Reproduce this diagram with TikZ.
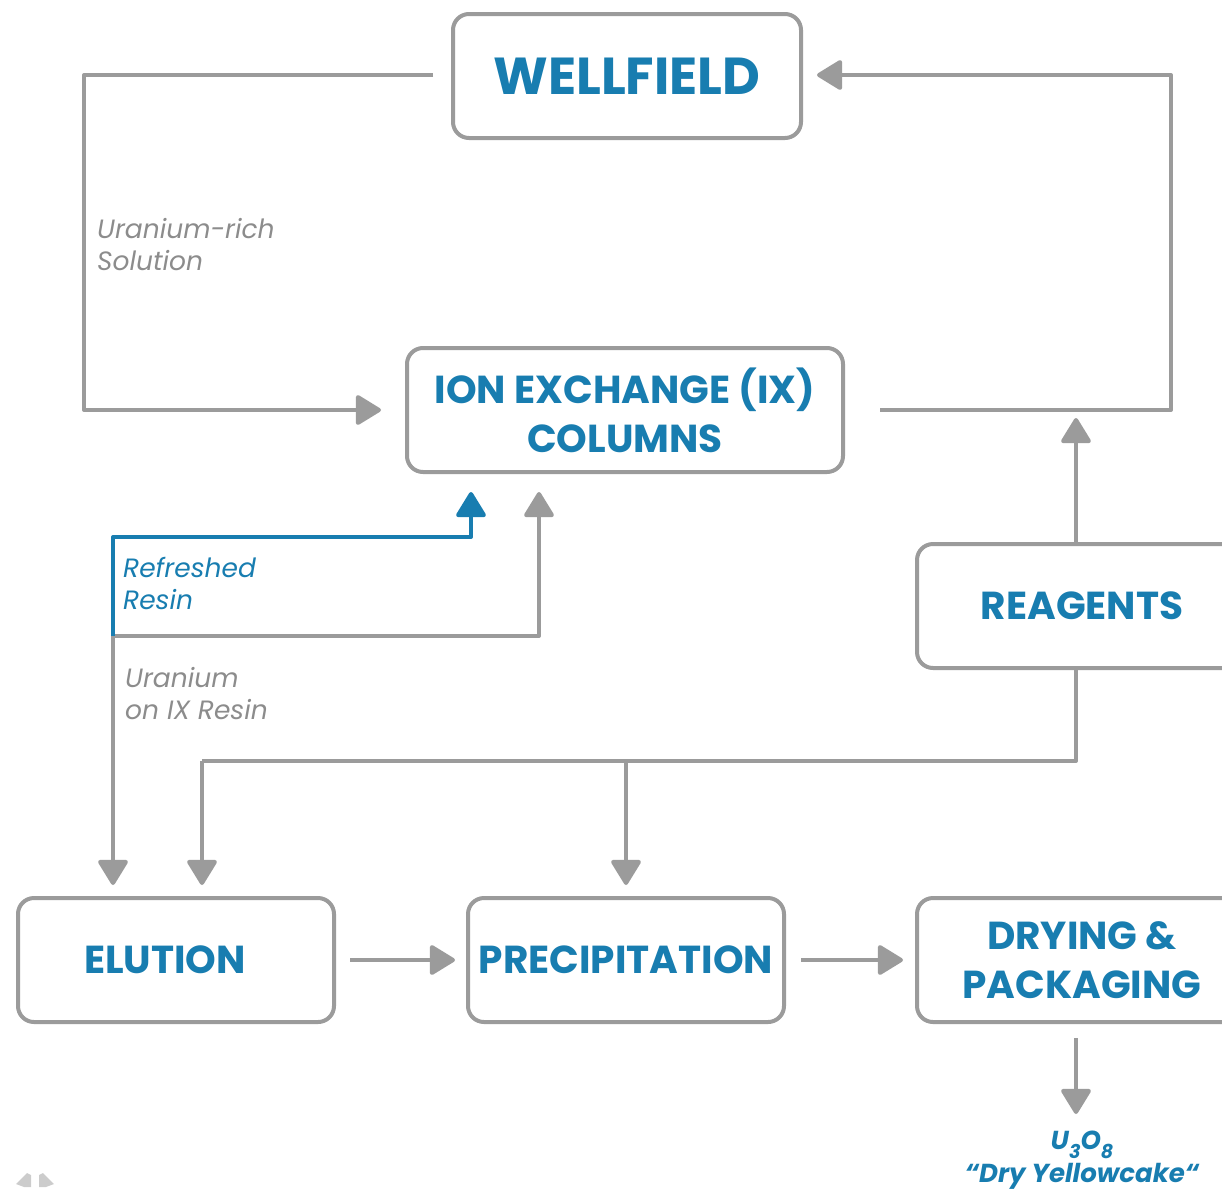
\documentclass[tikz,border=0pt]{standalone}
\usepackage{fontspec}
\setmainfont{Poppins}
\usetikzlibrary{positioning,calc,arrows.meta}
\definecolor{ucblue}{RGB}{24,125,176}
\definecolor{linegray}{RGB}{155,155,155}
\definecolor{labelgray}{RGB}{140,140,140}
\tikzset{>={Triangle[length=27pt,width=32pt,round]}}
\tikzset{
  stage/.style={draw=linegray,line width=4pt,rounded corners=16pt,fill=white,
    text=ucblue,align=center,inner sep=0pt,minimum height=124pt,
    font=\bfseries\fontsize{39}{49}\selectfont},
  flow/.style={draw=linegray,line width=4pt,line join=round},
  tag/.style={text=labelgray,align=left,anchor=north west,inner sep=0pt,
    font=\itshape\fontsize{26.5}{32}\selectfont},
}
\newcommand*{\sub}[1]{\raisebox{-0.32em}{\fontsize{19}{19}\selectfont #1}}

\begin{document}
\begin{tikzpicture}[x=1pt,y=-1pt]
\useasboundingbox (0,0) rectangle (1222,1191);
% stages
\node[stage,minimum width=348pt,font=\bfseries\fontsize{52}{56}\selectfont] (wf) at (627,76) {WELLFIELD};
\node[stage,minimum width=436pt] (ix) at (625,410) {ION EXCHANGE (IX)\\COLUMNS};
\node[stage,minimum width=330pt] (rg) at (1082,606) {REAGENTS};
\node[stage,minimum width=316pt] (el) at (176,960) {ELUTION\hspace*{22pt}};
\node[stage,minimum width=316pt] (pr) at (626,960) {PRECIPITATION};
\node[stage,minimum width=330pt] (dp) at (1082,960) {DRYING \&\\PACKAGING};
% corners of the flows
\coordinate (nw) at (84,75);
\coordinate (sw) at (84,410);
\coordinate (ne) at (1171,75);
\coordinate (se) at (1171,410);
\coordinate (rx) at (1076,0);
\coordinate (mix) at (1076,761);
\coordinate (mel) at (202,761);
\coordinate (mpr) at (626,761);
\coordinate (jr) at (113,636);
\coordinate (bl) at (113,537);
\coordinate (bu) at (471,537);
\coordinate (gu) at (539,636);
% uranium-rich solution loop
\draw[flow,->,shorten <=18pt,shorten >=24pt] (wf.west |- nw) -- (nw) -- (sw) -- (ix.west);
\draw[flow,->,shorten <=35pt,shorten >=14pt] (ix.east) -- (se) -- (ne) -- (wf.east |- ne);
\node[tag] (sol) at (97,218) {Uranium-rich\\Solution};
% reagents
\draw[flow,->,shorten >=8pt] (rg.north -| rx) -- (se -| rx);
\draw[flow] (rg.south -| rx) -- (mix) -- (mel);
\draw[flow,->,shorten >=11pt] (mel) -- (el.north -| mel);
\draw[flow,->,shorten >=11pt] (mpr) -- (pr.north);
% resin loop
\draw[flow,->,shorten >=18pt] (jr) -- (gu) -- (ix.south -| gu);
\draw[flow,->,shorten >=11pt] (jr) -- (el.north -| jr);
\draw[flow,draw=ucblue,->,shorten >=18pt] (jr) -- (bl) -- (bu) -- (ix.south -| bu);
\node[tag,text=ucblue] (res) at (123,557) {Refreshed\\Resin};
\node[tag] (uix) at (125,667) {Uranium\\on IX Resin};
% product line
\draw[flow,->,shorten <=14pt,shorten >=11pt] (el.east) -- (pr.west);
\draw[flow,->,shorten <=15pt,shorten >=12pt] (pr.east) -- (dp.west);
\node[text=ucblue,align=center,inner sep=0pt,anchor=north,
  font=\bfseries\itshape\fontsize{26}{33}\selectfont] (yc) at (1082,1131)
  {U\sub{3}O\sub{8}\\“Dry Yellowcake“};
\draw[flow,->,shorten <=14pt] (dp.south -| rx) -- (1076,1114);
% logo
\fill[black!20] (16,1184) -- (27,1173) -- (31,1175) -- (31,1187) -- (24,1187) -- cycle;
\fill[black!20] (54,1184) -- (43,1173) -- (39,1175) -- (39,1187) -- (46,1187) -- cycle;
\end{tikzpicture}
\end{document}
